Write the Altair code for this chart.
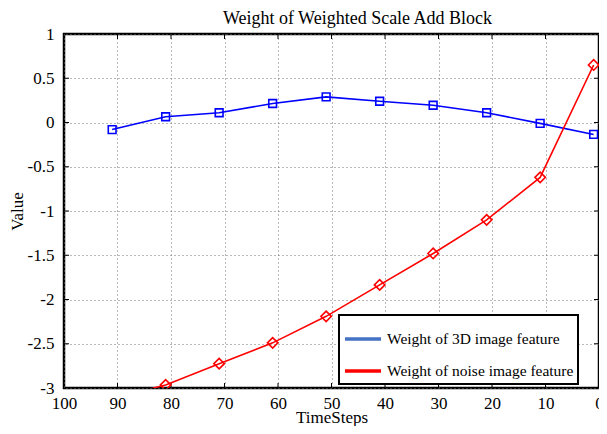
import altair as alt
import pandas as pd

steps = [91, 81, 71, 61, 51, 41, 31, 21, 11, 1]
w3d = [-0.08, 0.065, 0.11, 0.215, 0.29, 0.24, 0.195, 0.11, -0.01, -0.135]
wnoise = [-3.12, -2.965, -2.725, -2.49, -2.19, -1.835, -1.48, -1.10, -0.62, 0.65]
series_names = ["Weight of 3D image feature", "Weight of noise image feature"]
x_ticks = [100, 90, 80, 70, 60, 50, 40, 30, 20, 10, 0]
y_ticks = [1, 0.5, 0, -0.5, -1, -1.5, -2, -2.5, -3]

W, H = 535, 354
FONT = "Liberation Serif"

df = pd.DataFrame(
    {"step": steps * 2,
     "value": w3d + wnoise,
     "series": [series_names[0]] * len(steps) + [series_names[1]] * len(steps)}
)
blue_df = df[df.series == series_names[0]]
red_df = df[df.series == series_names[1]]

xs = alt.Scale(domain=[0, 100], reverse=True, nice=False)
ys = alt.Scale(domain=[-3, 1], nice=False)

xax = alt.Axis(values=x_ticks, labelExpr="datum.value + ''", labelFont=FONT, labelFontSize=17,
               labelColor="black", tickSize=0, labelPadding=7, domain=False,
               grid=True, gridColor="#707070", gridDash=[1, 3], gridWidth=1,
               title="TimeSteps", titleFont=FONT, titleFontSize=17,
               titleFontWeight="normal", titleColor="black",
               titleX=W / 2, titleY=34, titleBaseline="alphabetic",
               labelFlush=False)
yax = alt.Axis(values=y_ticks, labelExpr="datum.value + ''", labelFont=FONT, labelFontSize=17,
               labelColor="black", tickSize=0, labelPadding=10, domain=False,
               grid=True, gridColor="#707070", gridDash=[1, 3], gridWidth=1,
               title="Value", titleFont=FONT, titleFontSize=17,
               titleFontWeight="normal", titleColor="black",
               titleX=-47, titleY=H / 2, titleBaseline="middle", titleAngle=270,
               labelFlush=False)

base_x = alt.X("step:Q", scale=xs, axis=xax)
base_y = alt.Y("value:Q", scale=ys, axis=yax)

blue_line = alt.Chart(blue_df).mark_line(color="#0000ff", strokeWidth=1.6, clip=True).encode(
    x=base_x, y=base_y)
blue_pts = alt.Chart(blue_df).mark_point(shape="square", size=60, filled=False,
                                         color="#0000ff", strokeWidth=1.6, opacity=1,
                                         clip=True).encode(x="step:Q", y="value:Q")
red_line = alt.Chart(red_df).mark_line(color="#ff0000", strokeWidth=1.6, clip=True).encode(
    x="step:Q", y="value:Q")
red_pts = alt.Chart(red_df).mark_point(shape="diamond", size=110, filled=False,
                                       color="#ff0000", strokeWidth=1.6, opacity=1,
                                       clip=True).encode(x="step:Q", y="value:Q")

legend_layer = alt.Chart(df).mark_line(opacity=0).encode(
    x="step:Q", y="value:Q",
    color=alt.Color("series:N",
                    scale=alt.Scale(domain=series_names, range=["#4472c4", "#ff0000"]),
                    legend=alt.Legend(title=None,
                                      orient="none", legendX=275, legendY=281,
                                      symbolType="stroke", symbolSize=1300,
                                      symbolStrokeWidth=3.5, symbolOpacity=1,
                                      labelFont=FONT, labelFontSize=15.5, labelColor="black",
                                      labelOffset=4, rowPadding=3, padding=4,
                                      fillColor="white", strokeColor="black",
                                      labelLimit=400)))

xt = pd.DataFrame({"t": x_ticks[1:-1]})
yt = pd.DataFrame({"t": y_ticks[1:-1]})
tick_bottom = alt.Chart(xt).mark_rule(color="black", strokeWidth=1).encode(
    x="t:Q", y=alt.value(H), y2=alt.value(H - 5))
tick_top = alt.Chart(xt).mark_rule(color="black", strokeWidth=1).encode(
    x="t:Q", y=alt.value(0), y2=alt.value(5))
tick_left = alt.Chart(yt).mark_rule(color="black", strokeWidth=1).encode(
    y="t:Q", x=alt.value(0), x2=alt.value(5))
tick_right = alt.Chart(yt).mark_rule(color="black", strokeWidth=1).encode(
    y="t:Q", x=alt.value(W), x2=alt.value(W - 5))

chart = alt.layer(
    blue_line, tick_bottom, tick_top, tick_left, tick_right,
    blue_pts, red_line, red_pts, legend_layer
).properties(
    width=W, height=H,
    title=alt.Title("Weight of Weighted Scale Add Block", font=FONT, fontSize=18,
                    fontWeight="normal", color="black", anchor="middle", offset=-3, dx=26),
    autosize=alt.AutoSizeParams(type="none"),
    padding={"left": 56, "top": 26, "right": 0, "bottom": 38},
).configure_view(
    stroke="black", strokeWidth=2.5
).configure_legend(
    strokeWidth=2
)

chart.save("out.html", embed_options={"renderer": "svg", "actions": False})
